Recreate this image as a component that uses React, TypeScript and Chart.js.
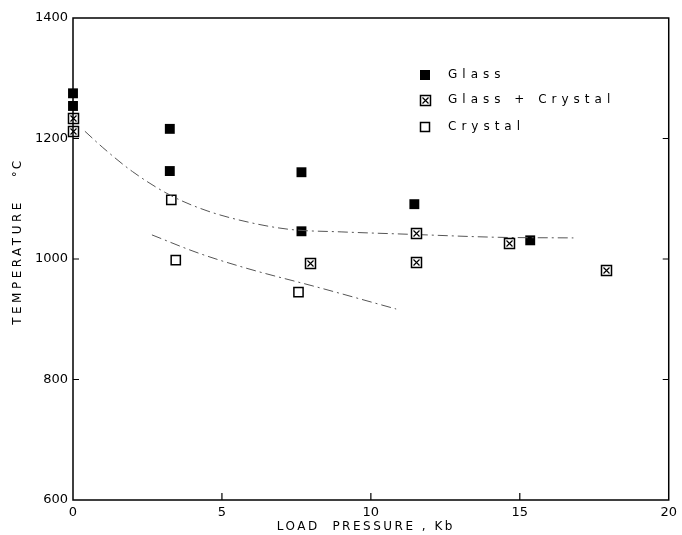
import React, { useEffect, useRef } from 'react';
import { Chart, registerables } from 'chart.js';
Chart.register(...registerables);

const glassX = [0, 0, 3.25, 3.25, 7.67, 7.67, 11.46, 15.35];
const glassY = [1275, 1254, 1216, 1146, 1144, 1046, 1091, 1031];
const mixX = [0, 0, 7.97, 11.52, 11.52, 14.64, 17.89];
const mixY = [1234, 1212, 993, 1043, 995, 1027, 982];
const crystalX = [3.3, 3.45, 7.57];
const crystalY = [1098, 998, 945];
const upperX = [0.4, 1, 2, 3.3, 4.5, 5.9, 7.3, 9, 11.3, 14.3, 16.8];
const upperY = [1212, 1185, 1145, 1105, 1080, 1061, 1049, 1045, 1041, 1036, 1035];
const lowerX = [2.65, 4.2, 5.8, 8.3, 10.85];
const lowerY = [1040, 1010, 985, 952, 917];
const xInnerTicks = [5, 10, 15];
const yInnerTicks = [800, 1000, 1200];
const legendLabels = ['Glass', 'Glass + Crystal', 'Crystal'];
const xTitle = 'LOAD  PRESSURE , Kb';
const yTitle = 'TEMPERATURE';
const yUnit = '°C';

const FONT = '"DejaVu Sans", sans-serif';
const INK = '#000';

const pts = (xs: number[], ys: number[]) => xs.map((x, i) => ({ x, y: ys[i] }));

function drawMix(ctx: CanvasRenderingContext2D, x: number, y: number) {
  const cx = Math.round(x) + 0.5, cy = Math.round(y) + 0.5;
  ctx.fillStyle = '#fff';
  ctx.fillRect(cx - 5, cy - 5, 10, 10);
  ctx.strokeStyle = INK;
  ctx.lineWidth = 1.5;
  ctx.strokeRect(cx - 5, cy - 5, 10, 10);
  ctx.lineWidth = 1.2;
  ctx.beginPath();
  ctx.moveTo(cx - 3, cy - 3); ctx.lineTo(cx + 3, cy + 3);
  ctx.moveTo(cx + 3, cy - 3); ctx.lineTo(cx - 3, cy + 3);
  ctx.stroke();
}

export default function App() {
  const ref = useRef<HTMLCanvasElement>(null);
  useEffect(() => {
    const decor = {
      id: 'decor',
      afterDatasetsDraw(chart: any) {
        const ctx = chart.ctx;
        ctx.save();
        chart.getDatasetMeta(3).data.forEach((el: any) => drawMix(ctx, el.x, el.y));
        ctx.restore();
      },
      afterDraw(chart: any) {
        const { ctx, chartArea: a, scales } = chart;
        const xs = scales.x, ys = scales.y;
        ctx.save();
        ctx.strokeStyle = INK;
        ctx.lineWidth = 1.5;
        ctx.strokeRect(a.left, a.top, a.right - a.left, a.bottom - a.top);
        ctx.lineWidth = 1.2;
        ctx.beginPath();
        for (const v of yInnerTicks) {
          const py = ys.getPixelForValue(v);
          ctx.moveTo(a.left, py); ctx.lineTo(a.left + 6, py);
          ctx.moveTo(a.right, py); ctx.lineTo(a.right - 6, py);
        }
        for (const v of xInnerTicks) {
          const px = xs.getPixelForValue(v);
          ctx.moveTo(px, a.bottom); ctx.lineTo(px, a.bottom - 7);
        }
        ctx.stroke();

        // legend
        const lx = 425;
        const rows = [75, 100, 127];
        ctx.fillStyle = INK;
        ctx.fillRect(lx - 5, rows[0] - 5, 10, 10);
        drawMix(ctx, lx - 0.5, rows[1] - 0.5);
        ctx.fillStyle = '#fff';
        ctx.fillRect(lx - 5, rows[2] - 5, 10, 10);
        ctx.strokeStyle = INK;
        ctx.lineWidth = 1.5;
        ctx.strokeRect(lx - 4.5, rows[2] - 4.5, 9, 9);
        ctx.fillStyle = INK;
        ctx.font = `12px ${FONT}`;
        ctx.textBaseline = 'middle';
        ctx.textAlign = 'left';
        (ctx as any).letterSpacing = '5px';
        legendLabels.forEach((t, i) => ctx.fillText(t, 448, rows[i]));

        // x title
        (ctx as any).letterSpacing = '2.5px';
        ctx.textAlign = 'center';
        ctx.font = `12px ${FONT}`;
        ctx.fillText(xTitle, (a.left + a.right) / 2 - 5, 527);

        // y title
        ctx.save();
        ctx.translate(18, 0);
        ctx.rotate(-Math.PI / 2);
        (ctx as any).letterSpacing = '3.5px';
        ctx.fillText(yTitle, -262, 0);
        (ctx as any).letterSpacing = '2px';
        ctx.fillText(yUnit, -168, 0);
        ctx.restore();
        ctx.restore();
      },
    };

    const chart = new Chart(ref.current!, {
      type: 'scatter',
      data: {
        datasets: [
          {
            label: 'upper',
            data: pts(upperX, upperY),
            showLine: true,
            borderColor: '#555',
            borderWidth: 1,
            borderDash: [10, 4, 2, 4],
            pointRadius: 0,
            cubicInterpolationMode: 'monotone',
          } as any,
          {
            label: 'lower',
            data: pts(lowerX, lowerY),
            showLine: true,
            borderColor: '#555',
            borderWidth: 1,
            borderDash: [10, 4, 2, 4],
            pointRadius: 0,
            cubicInterpolationMode: 'monotone',
          } as any,
          {
            label: legendLabels[0],
            data: pts(glassX, glassY),
            pointStyle: 'rect',
            pointRadius: 7,
            backgroundColor: INK,
            borderColor: INK,
            borderWidth: 0,
            clip: false,
          } as any,
          {
            label: legendLabels[1],
            data: pts(mixX, mixY),
            pointRadius: 0,
            clip: false,
          } as any,
          {
            label: legendLabels[2],
            data: pts(crystalX, crystalY),
            pointStyle: 'rect',
            pointRadius: 6.5,
            backgroundColor: '#fff',
            borderColor: INK,
            borderWidth: 1.5,
            clip: false,
          } as any,
        ],
      },
      options: {
        animation: false,
        responsive: false,
        maintainAspectRatio: false,
        layout: { padding: { top: 18, right: 12, left: 0, bottom: 0 } },
        plugins: { legend: { display: false }, tooltip: { enabled: false } },
        scales: {
          x: {
            type: 'linear',
            min: 0,
            max: 20,
            ticks: { stepSize: 5, color: INK, font: { family: FONT, size: 13 }, padding: 5, maxRotation: 0, callback: (v: any) => String(v) },
            grid: { display: false, drawTicks: false },
            border: { display: false },
            afterFit: (s: any) => { s.height = 35; },
          },
          y: {
            type: 'linear',
            min: 600,
            max: 1400,
            ticks: { stepSize: 200, color: INK, font: { family: FONT, size: 13 }, padding: 5, callback: (v: any) => String(v) },
            grid: { display: false, drawTicks: false },
            border: { display: false },
            afterFit: (s: any) => { s.width = 73; },
          },
        },
      },
      plugins: [decor],
    });
    return () => chart.destroy();
  }, []);
  return (
    <div style={{ position: 'absolute', left: 0, top: 0, width: 682, height: 535, background: '#fff' }}>
      <canvas ref={ref} width={682} height={535} style={{ display: 'block' }} />
    </div>
  );
}
